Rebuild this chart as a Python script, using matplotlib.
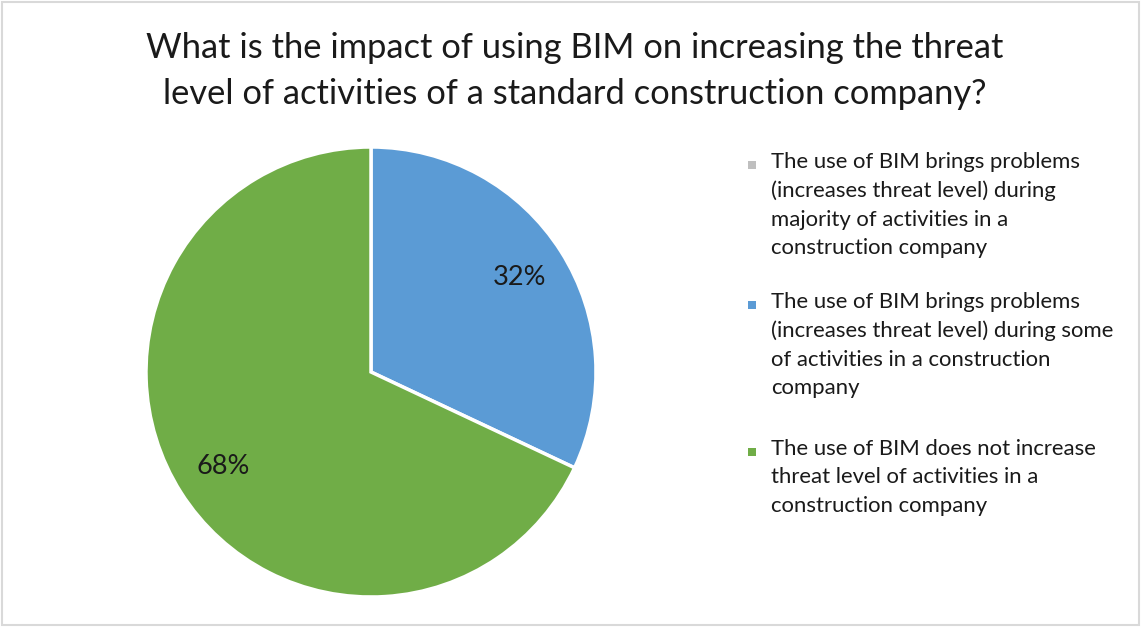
import matplotlib.pyplot as plt
from matplotlib.patches import Rectangle

plt.rcParams["font.family"] = ["Lato", "DejaVu Sans"]

title = ("What is the impact of using BIM on increasing the threat\n"
         "level of activities of a standard construction company?")
labels = [
    "The use of BIM brings problems\n(increases threat level) during\n"
    "majority of activities in a\nconstruction company",
    "The use of BIM brings problems\n(increases threat level) during some\n"
    "of activities in a construction\ncompany",
    "The use of BIM does not increase\nthreat level of activities in a\n"
    "construction company",
]
shares = [0, 32, 68]
colors = ["#BFBFBF", "#5B9BD5", "#70AD47"]

fig = plt.figure(figsize=(11.42, 6.28), dpi=100)
fig.patches.append(Rectangle((0.002, 0.004), 0.995, 0.993, transform=fig.transFigure,
                             fill=False, edgecolor="#D9D9D9", lw=1.5))

fig.text(0.503, 1 - 71 / 628, title, ha="center", va="center", fontsize=24.8,
         linespacing=1.56, color="#1a1a1a")

# pie: only non-empty slices, clockwise from 12 o'clock
vals = [v for v in shares if v > 0]
cols = [c for v, c in zip(shares, colors) if v > 0]
ax = fig.add_axes([146 / 1142, 31 / 628, 450 / 1142, 450 / 628])
wedges, texts, autotexts = ax.pie(
    vals, colors=cols, startangle=90, counterclock=False,
    autopct="%d%%", pctdistance=0.78, radius=1,
    wedgeprops=dict(edgecolor="white", linewidth=2.5),
    textprops=dict(fontsize=19.5, color="#1a1a1a"),
)
ax.set_xlim(-1, 1)
ax.set_ylim(-1, 1)
ax.set_aspect("equal")

# legend entries drawn by hand so the marker sits on the first line
first_line = [165, 305, 452]
for lab, col, yc in zip(labels, colors, first_line):
    fig.text(771 / 1142, 1 - (yc - 13) / 628, lab, ha="left", va="top",
             fontsize=15.9, linespacing=1.53, color="#1a1a1a")
    fig.patches.append(Rectangle((748 / 1142, 1 - (yc + 4) / 628), 8 / 1142, 8 / 628,
                                 transform=fig.transFigure, facecolor=col,
                                 edgecolor="none"))

fig.savefig("out.png", dpi=100)
